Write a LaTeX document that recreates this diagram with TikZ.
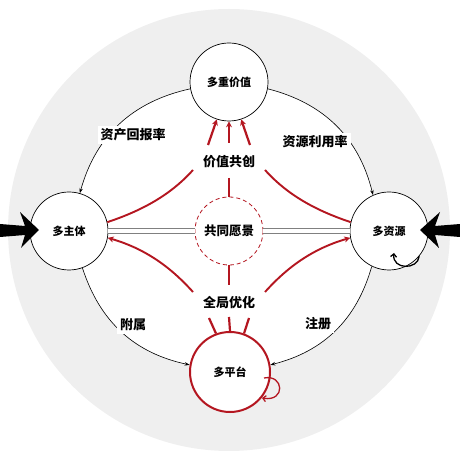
\documentclass[tikz,border=0pt]{standalone}
\usepackage{fontspec}
\newfontfamily\cjk{Noto Sans CJK SC}
\usetikzlibrary{arrows.meta,backgrounds}
\definecolor{dred}{RGB}{180,22,32}
\definecolor{bggray}{RGB}{239,239,239}
\begin{document}
\begin{tikzpicture}[x=1pt,y=1pt,
  nd/.style={circle,draw=black,line width=0.7pt,fill=white,minimum size=78pt,inner sep=0pt,font=\cjk\fontsize{11}{13}\selectfont\bfseries},
  lbl/.style={fill=white,inner sep=3pt,font=\cjk\fontsize{13}{15}\selectfont\bfseries},
  conn/.style={draw=black,line width=0.6pt,-{Stealth[length=5pt,width=3.5pt]}},
  rline/.style={draw=dred,line width=2.2pt},
  rcurve/.style={draw=dred,line width=1.9pt},
  rarrow/.style={draw=dred,line width=2.2pt,-{Stealth[length=6pt,width=6pt]}},
]
\useasboundingbox (0,0) rectangle (460,460);
% nodes
\node[nd] (dz) at (229,378) {多重价值};
\node[nd] (zt) at (69,229) {多主体};
\node[nd] (zy) at (389,229) {多资源};
\node[nd,draw=dred,line width=2pt,minimum size=80pt] (dp) at (230,88) {多平台};
\node[nd,draw=dred,line width=0.8pt,dash pattern=on 4pt off 3pt,minimum size=68pt,font=\cjk\fontsize{12.5}{14}\selectfont\bfseries] (gy) at (229,229) {共同愿景};
% background
\begin{scope}[on background layer]
\fill[bggray] (229,230) circle (221);
\fill[white] (dz.190) to[bend right=31] (zt.74) -- (zt.-70) to[bend right=30] (dp.170) -- (dp.10)
  to[bend right=30] (zy.244) -- (zy.114) to[bend right=31] (dz.350) -- cycle;
\end{scope}
% black arcs
\draw[conn] (dz.190) to[bend right=31] (zt.74);
\draw[conn] (dz.350) to[bend left=31] (zy.114);
\draw[conn] (zt.-70) to[bend right=30] (dp.170);
\draw[conn] (zy.244) to[bend left=30] (dp.10);
% double lines
\draw[gray,line width=0.8pt,double=white,double distance=4.5pt] (zt) -- (gy);
\draw[gray,line width=0.8pt,double=white,double distance=4.5pt] (gy) -- (zy);
% labels
\node[lbl] (l1) at (133,325) {资产回报率};
\node[lbl] (l2) at (315,318) {资源利用率};
\node[lbl] (l3) at (133,135) {附属};
\node[lbl] (l4) at (318,136) {注册};
\node[lbl] (jz) at (229,298) {价值共创};
\node[lbl] (qj) at (229,157) {全局优化};
% red short arrows and lines
\coordinate (a1) at (208,315);
\coordinate (a2) at (229,317);
\coordinate (a3) at (250,315);
\draw[rarrow] (a1) -- (dz.252);
\draw[rarrow] (a2) -- (dz.270);
\draw[rarrow] (a3) -- (dz.288);
\coordinate (b1) at (209,142);
\coordinate (b2) at (229,143);
\coordinate (b3) at (249,142);
\draw[rline] (b1) -- (dp.110);
\draw[rline] (b2) -- (dp.90);
\draw[rline] (b3) -- (dp.70);
\coordinate (c1) at (229,282);
\coordinate (c2) at (229,175);
\draw[rline] (c1) -- (gy.north);
\draw[rline] (gy.south) -- (c2);
% red curves
\coordinate (u1) at (193,290);
\coordinate (u2) at (265,290);
\coordinate (d1) at (193,168);
\coordinate (d2) at (265,168);
\draw[rcurve] (zt.13) .. controls (150,252) and (175,270) .. (u1);
\draw[rcurve] (zy.167) .. controls (308,252) and (283,270) .. (u2);
\draw[rcurve,-{Stealth[length=6pt,width=6pt]}] (d1) .. controls (175,188) and (150,210) .. (zt.-10);
\draw[rcurve,-{Stealth[length=6pt,width=6pt]}] (d2) .. controls (283,188) and (308,210) .. (zy.190);
% self loops
\draw[black,line width=1.3pt,-{Straight Barb[length=3pt,width=6pt]}] (zy.-40) .. controls (418,190) and (392,190) .. (394,207);
\coordinate (lp) at (264,82);
\draw[dred,line width=1.3pt,-{Straight Barb[length=3pt,width=6pt]}] (lp) .. controls (284,86) and (286,58) .. (262,62);
% big black arrows
\fill[black] (0,236) -- (25,234) -- (20,248) -- (39,230) -- (21,212) -- (25,225) -- (0,223) -- cycle;
\fill[black] (460,236) -- (435,234) -- (440,248) -- (420,230) -- (439,212) -- (435,225) -- (460,223) -- cycle;
\end{tikzpicture}
\end{document}
